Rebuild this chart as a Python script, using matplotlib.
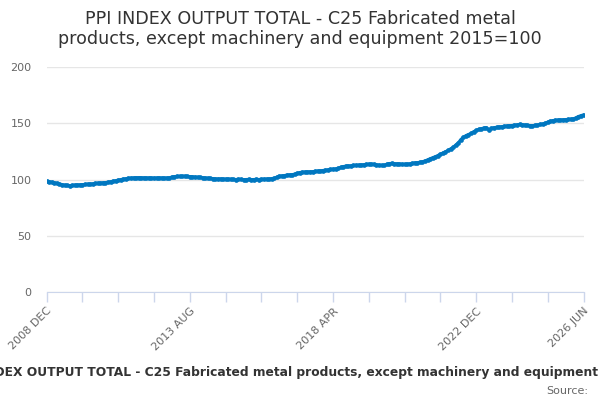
import matplotlib
matplotlib.use("Agg")
import matplotlib.pyplot as plt
import numpy as np

# monthly index values, 2008 DEC .. 2026 JUN (2015=100)
y2008 = [98.5]
y2009 = [98.0, 97.6, 97.2, 96.6, 96.0, 95.5, 95.0, 94.7, 94.6, 94.8, 95.0, 95.2]
y2010 = [95.3, 95.5, 95.6, 95.8, 96.0, 96.2, 96.5, 96.7, 96.9, 97.1, 97.3, 97.6]
y2011 = [98.0, 98.5, 99.0, 99.5, 100.0, 100.4, 100.8, 101.1, 101.3, 101.5, 101.6, 101.7]
y2012 = [101.6, 101.5, 101.4, 101.5, 101.4, 101.3, 101.4, 101.5, 101.4, 101.3, 101.4, 101.5]
y2013 = [102.2, 102.6, 102.8, 102.7, 102.8, 102.9, 102.7, 102.6, 102.5, 102.2, 102.0, 101.8]
y2014 = [101.6, 101.4, 101.2, 101.0, 100.8, 100.6, 100.5, 100.6, 100.4, 100.3, 100.4, 100.2]
y2015 = [100.1, 100.0, 100.2, 100.1, 99.9, 100.0, 100.1, 99.9, 100.0, 100.1, 100.0, 100.2]
y2016 = [100.3, 100.4, 100.5, 100.8, 101.2, 102.0, 103.0, 103.2, 103.5, 104.0, 104.2, 104.3]
y2017 = [104.8, 105.5, 106.2, 106.5, 106.6, 106.8, 106.9, 107.0, 107.2, 107.5, 107.7, 108.0]
y2018 = [108.3, 108.6, 108.9, 109.2, 109.5, 110.0, 110.7, 111.5, 111.9, 112.0, 112.2, 112.5]
y2019 = [112.6, 112.8, 113.0, 113.2, 113.4, 113.6, 113.7, 113.5, 113.2, 112.8, 112.6, 112.5]
y2020 = [113.5, 114.2, 114.3, 114.1, 114.0, 113.9, 113.6, 113.5, 113.7, 114.0, 114.3, 114.8]
y2021 = [115.0, 115.3, 115.8, 116.5, 117.5, 118.6, 119.4, 120.2, 121.3, 122.3, 123.4, 124.5]
y2022 = [125.8, 127.2, 128.6, 130.5, 132.5, 135.5, 137.5, 139.0, 140.0, 141.0, 142.5, 143.6]
y2023 = [144.5, 145.2, 145.8, 146.1, 144.2, 145.5, 146.1, 146.4, 146.7, 147.0, 147.2, 147.6]
y2024 = [147.8, 148.0, 148.3, 148.6, 149.0, 148.8, 148.5, 148.2, 148.0, 147.9, 148.1, 148.4]
y2025 = [149.0, 149.4, 150.0, 151.0, 151.8, 152.4, 152.6, 152.8, 153.0, 153.1, 153.3, 153.4]
y2026 = [153.6, 153.9, 154.8, 156.0, 156.8, 157.5]

values = (y2008 + y2009 + y2010 + y2011 + y2012 + y2013 + y2014 + y2015 + y2016
          + y2017 + y2018 + y2019 + y2020 + y2021 + y2022 + y2023 + y2024 + y2025 + y2026)

# labelled tick positions (in months from 2008 DEC) and their text
label_pos = [0, 56, 112, 168, 210]
tick_labels = ["2008 DEC", "2013 AUG", "2018 APR", "2022 DEC", "2026 JUN"]
y_ticks = [0, 50, 100, 150, 200]

title = "PPI INDEX OUTPUT TOTAL - C25 Fabricated metal products, except machinery and equipment 2015=100"

plt.rcParams['font.family'] = ['DejaVu Sans']

fig = plt.figure(figsize=(6, 4), dpi=100)
ax = fig.add_axes([0.0778, 0.27, 0.8947, 0.5625])

x = np.arange(len(values))
ax.plot(x, values, color='#0077c0', lw=2.2, marker='o', ms=3.4, mew=0)

ax.set_xlim(0, len(values) - 1)
ax.set_ylim(0, 200)
ax.set_yticks(y_ticks)
ax.set_yticklabels([str(v) for v in y_ticks], color='#666666', fontsize=8)
ax.tick_params(axis='y', length=0, pad=11)
ax.grid(axis='y', color='#e6e6e6', lw=1)
ax.set_axisbelow(True)

ticks = np.arange(0, len(values), 14)
ax.set_xticks(ticks)
ax.set_xticklabels([tick_labels[label_pos.index(t)] if t in label_pos else "" for t in ticks],
                   rotation=45, ha='right', rotation_mode='anchor',
                   color='#666666', fontsize=8)
ax.tick_params(axis='x', length=7, color='#ccd6eb', width=1, pad=3)

for s in ['top', 'right', 'left']:
    ax.spines[s].set_visible(False)
ax.spines['bottom'].set_color('#ccd6eb')

fig.text(0.5, 0.927, "PPI INDEX OUTPUT TOTAL - C25 Fabricated metal\nproducts, except machinery and equipment 2015=100",
         ha='center', va='center', fontsize=12.6, color='#333333', linespacing=1.15)

fig.text(0.997, 0.068, title.replace(" 2015=100", ""), ha='right', va='center',
         fontsize=8.8, fontweight='bold', color='#333333')
fig.text(0.98, 0.022, "Source:", ha='right', va='center', fontsize=8, color='#666666')

fig.savefig("out.png", dpi=100)
